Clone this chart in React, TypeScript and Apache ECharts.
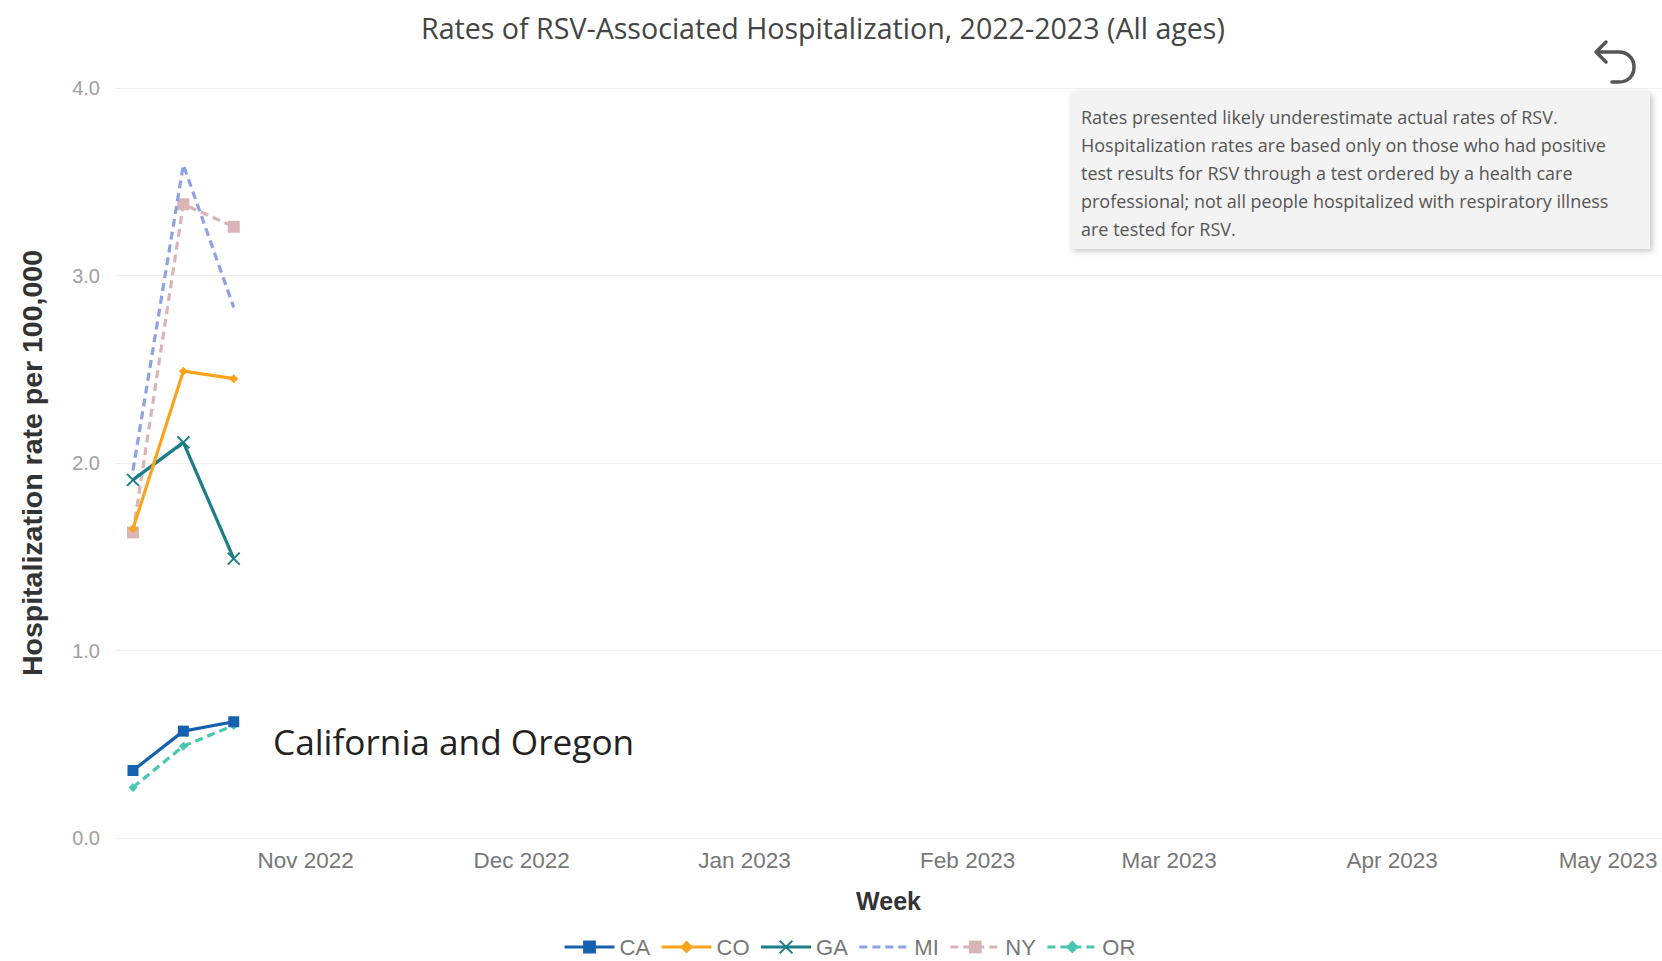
import React, { useEffect, useRef } from "react";
import * as echarts from "echarts";

const weeks: string[] = ["2022-10-08", "2022-10-15", "2022-10-22"];
const stateNames: string[] = ["CA", "CO", "GA", "MI", "NY", "OR"];
const caValues: number[] = [0.36, 0.57, 0.62];
const coValues: number[] = [1.65, 2.49, 2.45];
const gaValues: number[] = [1.91, 2.11, 1.49];
const miValues: number[] = [1.96, 3.59, 2.83];
const nyValues: number[] = [1.63, 3.38, 3.26];
const orValues: number[] = [0.27, 0.49, 0.6];
const yTicks: number[] = [0, 1, 2, 3, 4];
const noteLines: string[] = [
  "Rates presented likely underestimate actual rates of RSV.",
  "Hospitalization rates are based only on those who had positive",
  "test results for RSV through a test ordered by a health care",
  "professional; not all people hospitalized with respiratory illness",
  "are tested for RSV.",
];
const titleText = "Rates of RSV-Associated Hospitalization, 2022-2023 (All ages)";
const calloutText = "California and Oregon";

const SANS = "'Liberation Sans', Arial, sans-serif";
const OPEN = "'Open Sans', 'Noto Sans', sans-serif";

function toTime(s: string): number {
  const [y, m, d] = s.split("-").map(Number);
  return new Date(y, m - 1, d).getTime();
}

function pairs(vals: number[]): [number, number][] {
  return weeks.map((w, i) => [toTime(w), vals[i]]);
}

const UNDO_D =
  "M14,2 L4,12 L14,22 M4,12 L27,12 C36,12 42,19 42,27 C42,36 36,42 27,42 L20,42";

export default function App() {
  const ref = useRef<HTMLDivElement>(null);
  useEffect(() => {
    document.body.style.margin = "0";
    try {
      echarts.graphic.registerShape("undoIcon", echarts.graphic.extendPath(UNDO_D, {}));
    } catch (e) {}
    const chart = echarts.init(ref.current!, null, { renderer: "svg" });
    const xSym = "path://M0,0L10,10M10,0L0,10";
    const colors = ["#1660B0", "#F9A41C", "#1B7D87", "#8EA1E5", "#D9B5B8", "#45C7B2"];
    const valuesList = [caValues, coValues, gaValues, miValues, nyValues, orValues];
    const symbols = ["rect", "diamond", xSym, "circle", "rect", "diamond"];
    const sizes = [11, 9, 12, 0, 12, 9];
    const dashed = [false, false, false, true, true, true];
    const series = stateNames.map((name, i) => {
      const hidden = i === 3;
      return {
        name,
        type: "line",
        data: pairs(valuesList[i]),
        symbol: symbols[i],
        symbolSize: sizes[i],
        showSymbol: !hidden,
        itemStyle: hidden
          ? { color: "rgba(0,0,0,0)", borderWidth: 0 }
          : {
              color: colors[i],
              borderColor: colors[i],
              borderWidth: i === 2 ? 2 : 0,
            },
        lineStyle: { color: colors[i], width: 3.2, type: dashed[i] ? [8, 5] : "solid" },
        emphasis: { disabled: true },
        z: 10 - i,
      };
    });
    chart.setOption({
      animation: false,
      backgroundColor: "#ffffff",
      title: {
        text: titleText,
        left: 421,
        top: 13,
        padding: 0,
        textStyle: { fontFamily: OPEN, fontSize: 28.6, fontWeight: "normal", color: "#444" },
      },
      legend: {
        data: stateNames,
        left: 558,
        top: 931,
        itemWidth: 50,
        itemHeight: 16,
        itemGap: 10,
        lineStyle: { width: 3 },
        textStyle: { fontFamily: SANS, fontSize: 22, color: "#777" },
      },
      grid: { left: 115, right: 0, top: 88, bottom: 123 },
      xAxis: {
        type: "time",
        min: new Date(2022, 9, 5, 12).getTime(),
        max: new Date(2023, 4, 8, 12).getTime(),
        splitNumber: 7,
        minInterval: 28 * 86400000,
        maxInterval: 31 * 86400000,
        name: "Week",
        nameLocation: "middle",
        nameGap: 50,
        nameTextStyle: { fontFamily: SANS, fontSize: 25, fontWeight: "bold", color: "#333" },
        axisLine: { show: false },
        axisTick: { show: false },
        splitLine: { show: false },
        axisLabel: {
          formatter: "{MMM} {yyyy}",
          fontFamily: SANS,
          fontSize: 22.5,
          color: "#777",
          margin: 11,
        },
      },
      yAxis: {
        type: "value",
        min: yTicks[0],
        max: yTicks[yTicks.length - 1],
        interval: 1,
        name: "Hospitalization rate per 100,000",
        nameLocation: "middle",
        nameGap: 69,
        nameTextStyle: { fontFamily: SANS, fontSize: 28.5, fontWeight: "bold", color: "#333" },
        axisLine: { show: false },
        axisTick: { show: false },
        splitLine: { lineStyle: { color: "#f0f0f0", width: 1 } },
        axisLabel: {
          formatter: (v: number) => v.toFixed(1),
          fontFamily: SANS,
          fontSize: 20,
          color: "#a0a0a0",
          margin: 15,
        },
      },
      tooltip: { show: false },
      series,
      graphic: [
        {
          type: "rect",
          shape: { x: 1071, y: 92, width: 579, height: 157 },
          style: {
            fill: "#f3f3f3",
            shadowBlur: 6,
            shadowColor: "rgba(0,0,0,0.25)",
            shadowOffsetX: 2,
            shadowOffsetY: 2,
          },
          z: 20,
        },
        {
          type: "text",
          x: 1081,
          y: 103,
          style: {
            text: noteLines.join("\n"),
            fontFamily: OPEN,
            fontSize: 18,
            lineHeight: 28,
            fill: "#555",
          },
          z: 21,
        },
        {
          type: "text",
          x: 273,
          y: 741,
          style: {
            text: calloutText,
            fontFamily: OPEN,
            fontSize: 35.2,
            fill: "#222",
            verticalAlign: "middle",
          },
          z: 21,
        },
        {
          type: "undoIcon",
          x: 1592,
          y: 40,
          scaleX: 1,
          scaleY: 1,
          style: { stroke: "#555", fill: "none", lineWidth: 3.5, lineCap: "round", lineJoin: "round" },
          z: 21,
        },
      ],
    });
    return () => chart.dispose();
  }, []);
  return <div ref={ref} style={{ width: 1662, height: 961 }} />;
}
